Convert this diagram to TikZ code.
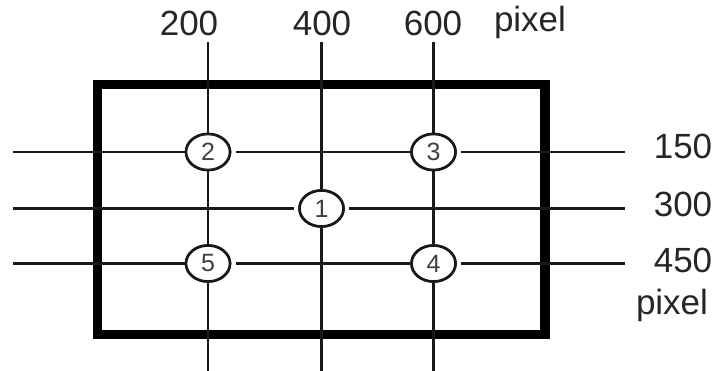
\documentclass[tikz,border=0pt]{standalone}
\usepackage{fontspec}
\setmainfont{Liberation Sans}
\usetikzlibrary{shapes.geometric}
\begin{document}
\begin{tikzpicture}[x=1pt,y=-1pt,
  thin line/.style={line width=2.2pt,black!90},
  frame/.style={line width=9.5pt,black},
  marker/.style={ellipse,draw,line width=2.6pt,black!90,fill=white,inner sep=0pt,
    minimum width=44pt,minimum height=36pt,font=\fontsize{25}{25}\selectfont,text=black!75},
  label/.style={font=\fontsize{35}{35}\selectfont,text=black!85,inner sep=0pt}]
\useasboundingbox (0,0) rectangle (717,371);
% free ends of the grid lines
\coordinate (t1) at (208,42);  \coordinate (b1) at (208,371);
\coordinate (t2) at (321.5,42); \coordinate (b2) at (321.5,371);
\coordinate (t3) at (433.5,42); \coordinate (b3) at (433.5,371);
\coordinate (l1) at (13,152);   \coordinate (r1) at (625,152);
\coordinate (l2) at (13,208.5); \coordinate (r2) at (625,208.5);
\coordinate (l3) at (13,263.5); \coordinate (r3) at (625,263.5);
% frame
\draw[frame] (97.5,84.5) rectangle (545,334.5);
% markers
\node[marker] (m2) at (208,152) {2};
\node[marker] (m3) at (433.5,152) {3};
\node[marker] (m1) at (321.5,208.5) {1};
\node[marker] (m5) at (208,263.5) {5};
\node[marker] (m4) at (433.5,263.5) {4};
% vertical lines
\draw[thin line] (t1) -- (m2.north);
\draw[thin line] (m2.south) -- (m5.north);
\draw[thin line] (m5.south) -- (b1);
\draw[thin line] (t2) -- (m1.north);
\draw[thin line] (m1.south) -- (b2);
\draw[thin line] (t3) -- (m3.north);
\draw[thin line] (m3.south) -- (m4.north);
\draw[thin line] (m4.south) -- (b3);
% horizontal lines
\draw[thin line] (l1) -- (m2.west);
\draw[thin line,shorten <=5pt] (m2.east) -- (m3.west);
\draw[thin line,shorten <=4pt] (m3.east) -- (r1);
\draw[thin line,shorten >=4pt] (l2) -- (m1.west);
\draw[thin line,shorten <=4pt] (m1.east) -- (r2);
\draw[thin line] (l3) -- (m5.west);
\draw[thin line,shorten <=5pt] (m5.east) -- (m4.west);
\draw[thin line,shorten <=4pt] (m4.east) -- (r3);
% redraw markers on top
\node[marker] at (m2) {2};
\node[marker] at (m3) {3};
\node[marker] at (m1) {1};
\node[marker] at (m5) {5};
\node[marker] at (m4) {4};
% labels
\node[label] (x200) at (189,23.5) {200};
\node[label] (x400) at (322,23.5) {400};
\node[label] (x600) at (433,23.5) {600};
\node[label,anchor=base] (xpx) at (530,32) {pixel};
\node[label] (y150) at (683,146) {150};
\node[label] (y300) at (683,204) {300};
\node[label] (y450) at (683,260) {450};
\node[label,anchor=base] (ypx) at (672,314) {pixel};
\end{tikzpicture}
\end{document}
